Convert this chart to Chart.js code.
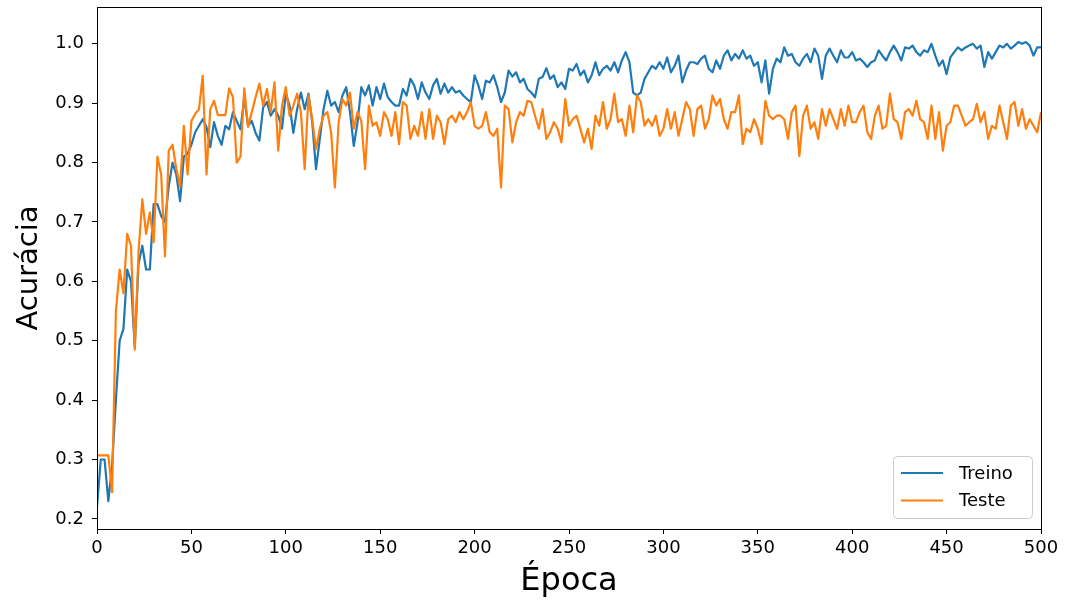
<!DOCTYPE html>
<html>
<head>
<meta charset="utf-8">
<script src="https://cdn.jsdelivr.net/npm/chart.js@4"></script>
<style>
  html, body { margin: 0; padding: 0; background: #fff; }
  #wrap { width: 1065px; height: 602px; }
</style>
</head>
<body>
<div id="wrap"><canvas id="acc"></canvas></div>
<script>
// Epochs (every 2nd epoch, 0..500)
const epochs = Array.from({ length: 251 }, (_, i) => i * 2);

// Accuracy per epoch
const treino = [
  0.22, 0.30, 0.30, 0.23, 0.29, 0.40, 0.50, 0.52, 0.62, 0.60,
  0.49, 0.63, 0.66, 0.62, 0.62, 0.73, 0.73, 0.71, 0.70, 0.76,
  0.80, 0.78, 0.735, 0.81, 0.815, 0.83, 0.851, 0.862, 0.873, 0.86,
  0.826, 0.868, 0.845, 0.83, 0.862, 0.856, 0.885, 0.87, 0.856, 0.91,
  0.862, 0.87, 0.85, 0.837, 0.893, 0.902, 0.879, 0.89, 0.879, 0.857,
  0.916, 0.896, 0.85, 0.89, 0.918, 0.89, 0.916, 0.868, 0.789, 0.84,
  0.89, 0.921, 0.896, 0.902, 0.885, 0.913, 0.927, 0.885, 0.828, 0.868,
  0.927, 0.913, 0.93, 0.896, 0.927, 0.907, 0.933, 0.91, 0.902, 0.896,
  0.896, 0.924, 0.913, 0.941, 0.93, 0.907, 0.935, 0.918, 0.907, 0.93,
  0.941, 0.916, 0.933, 0.918, 0.927, 0.918, 0.921, 0.913, 0.907, 0.902,
  0.947, 0.93, 0.907, 0.938, 0.935, 0.947, 0.927, 0.902, 0.918, 0.955,
  0.945, 0.952, 0.935, 0.941, 0.924, 0.918, 0.91, 0.941, 0.944, 0.959,
  0.941, 0.947, 0.927, 0.935, 0.924, 0.958, 0.955, 0.966, 0.947, 0.955,
  0.935, 0.947, 0.969, 0.947, 0.958, 0.963, 0.955, 0.969, 0.952, 0.972,
  0.986, 0.969, 0.918, 0.913, 0.918, 0.941, 0.952, 0.963, 0.958, 0.969,
  0.958, 0.977, 0.952, 0.963, 0.98, 0.935, 0.955, 0.969, 0.969, 0.966,
  0.975, 0.98, 0.958, 0.952, 0.972, 0.958, 0.98, 0.989, 0.972, 0.983,
  0.975, 0.989, 0.975, 0.98, 0.963, 0.969, 0.935, 0.972, 0.916, 0.958,
  0.975, 0.969, 0.994, 0.98, 0.983, 0.969, 0.963, 0.975, 0.983, 0.969,
  0.992, 0.98, 0.941, 0.98, 0.992, 0.98, 0.969, 0.989, 0.977, 0.977,
  0.986, 0.972, 0.975, 0.969, 0.961, 0.969, 0.972, 0.989, 0.98, 0.972,
  0.986, 0.997, 0.986, 0.972, 0.994, 0.992, 0.997, 0.986, 0.98, 0.989,
  0.986, 1.0, 0.98, 0.963, 0.972, 0.949, 0.977, 0.986, 0.994, 0.989,
  0.994, 0.997, 1.0, 0.992, 0.997, 0.961, 0.986, 0.975, 0.986, 0.997,
  0.994, 1.0, 0.992, 0.997, 1.003, 1.0, 1.003, 0.997, 0.98, 0.994,
  0.994
];

const teste = [
  0.307, 0.307, 0.307, 0.307, 0.245, 0.55, 0.62, 0.58, 0.68, 0.66,
  0.485, 0.65, 0.738, 0.68, 0.716, 0.666, 0.81, 0.78, 0.642, 0.82,
  0.83, 0.79, 0.76, 0.862, 0.78, 0.87, 0.882, 0.89, 0.946, 0.78,
  0.89, 0.904, 0.88, 0.88, 0.88, 0.925, 0.91, 0.80, 0.81, 0.925,
  0.86, 0.885, 0.91, 0.933, 0.896, 0.924, 0.885, 0.935, 0.82, 0.896,
  0.927, 0.879, 0.896, 0.916, 0.885, 0.789, 0.913, 0.873, 0.823, 0.857,
  0.879, 0.885, 0.851, 0.758, 0.868, 0.907, 0.896, 0.918, 0.857, 0.885,
  0.87, 0.789, 0.896, 0.862, 0.868, 0.845, 0.885, 0.873, 0.845, 0.885,
  0.831, 0.902, 0.896, 0.84, 0.862, 0.845, 0.885, 0.84, 0.89, 0.84,
  0.879, 0.868, 0.831, 0.873, 0.879, 0.868, 0.885, 0.873, 0.885, 0.902,
  0.862, 0.857, 0.862, 0.885, 0.851, 0.845, 0.857, 0.758, 0.896, 0.89,
  0.834, 0.868, 0.885, 0.879, 0.904, 0.902, 0.879, 0.857, 0.89, 0.84,
  0.851, 0.868, 0.857, 0.834, 0.907, 0.862, 0.873, 0.879, 0.857, 0.834,
  0.857, 0.823, 0.879, 0.862, 0.902, 0.857, 0.873, 0.916, 0.868, 0.873,
  0.845, 0.896, 0.851, 0.913, 0.902, 0.862, 0.873, 0.862, 0.879, 0.845,
  0.857, 0.89, 0.857, 0.885, 0.845, 0.873, 0.902, 0.89, 0.845, 0.89,
  0.896, 0.857, 0.873, 0.913, 0.896, 0.907, 0.873, 0.857, 0.885, 0.885,
  0.913, 0.831, 0.857, 0.851, 0.873, 0.857, 0.831, 0.904, 0.879, 0.873,
  0.879, 0.879, 0.873, 0.84, 0.885, 0.896, 0.811, 0.879, 0.896, 0.857,
  0.868, 0.84, 0.89, 0.862, 0.89, 0.873, 0.857, 0.89, 0.862, 0.896,
  0.868, 0.868, 0.885, 0.896, 0.851, 0.84, 0.879, 0.896, 0.857, 0.862,
  0.916, 0.873, 0.868, 0.84, 0.885, 0.89, 0.879, 0.904, 0.873, 0.868,
  0.84, 0.896, 0.84, 0.885, 0.82, 0.862, 0.868, 0.896, 0.896, 0.879,
  0.862, 0.868, 0.873, 0.899, 0.868, 0.885, 0.84, 0.862, 0.857, 0.896,
  0.868, 0.84, 0.896, 0.902, 0.862, 0.89, 0.857, 0.873, 0.862, 0.851,
  0.885
];

const seriesLabels = ['Treino', 'Teste'];
const seriesColors = ['#1f77b4', '#ff7f0e'];
const xTitle = 'Época';
const yTitle = 'Acurácia';

const FONT = "'DejaVu Sans', sans-serif";

// Matplotlib-like box around the plot area
const frame = {
  id: 'frame',
  afterDatasetsDraw(chart) {
    const { ctx, chartArea: a } = chart;
    ctx.save();
    ctx.strokeStyle = '#000';
    ctx.lineWidth = 1;
    ctx.strokeRect(a.left + 0.5, a.top + 0.5, a.right - a.left, a.bottom - a.top);
    ctx.restore();
  }
};

// Legend box in the lower right corner
const cornerLegend = {
  id: 'cornerLegend',
  afterDraw(chart) {
    const { ctx, chartArea: a } = chart;
    const right = a.right - 9;
    const bottom = a.bottom - 11;
    const w = 139, h = 62;
    const x = right - w, y = bottom - h;
    ctx.save();
    ctx.beginPath();
    ctx.roundRect(x + 0.5, y + 0.5, w, h, 4);
    ctx.fillStyle = 'rgba(255,255,255,0.8)';
    ctx.fill();
    ctx.strokeStyle = '#cccccc';
    ctx.lineWidth = 1;
    ctx.stroke();
    chart.data.datasets.forEach((ds, i) => {
      const ly = y + 17 + i * 27.5;
      ctx.beginPath();
      ctx.moveTo(x + 8, ly);
      ctx.lineTo(x + 50, ly);
      ctx.strokeStyle = ds.borderColor;
      ctx.lineWidth = 2.2;
      ctx.stroke();
      ctx.fillStyle = '#000';
      ctx.font = '18px ' + FONT;
      ctx.textBaseline = 'middle';
      ctx.textAlign = 'left';
      ctx.fillText(ds.label, x + 66, ly + 1);
    });
    ctx.restore();
  }
};

const ctx = document.getElementById('acc').getContext('2d');

new Chart(ctx, {
  type: 'line',
  data: {
    datasets: [
      {
        label: seriesLabels[0],
        data: epochs.map((e, i) => ({ x: e, y: treino[i] })),
        borderColor: seriesColors[0],
        borderWidth: 2.2,
        pointRadius: 0,
        tension: 0,
        borderJoinStyle: 'round',
        order: 1
      },
      {
        label: seriesLabels[1],
        data: epochs.map((e, i) => ({ x: e, y: teste[i] })),
        borderColor: seriesColors[1],
        borderWidth: 2.2,
        pointRadius: 0,
        tension: 0,
        borderJoinStyle: 'round',
        order: 0
      }
    ]
  },
  options: {
    responsive: true,
    maintainAspectRatio: false,
    animation: false,
    layout: { padding: { top: 7, right: 24, left: 0, bottom: 0 } },
    plugins: {
      legend: { display: false },
      tooltip: { enabled: false }
    },
    scales: {
      x: {
        type: 'linear',
        min: 0,
        max: 500,
        border: { display: false },
        grid: {
          drawOnChartArea: false,
          drawTicks: true,
          tickLength: 5,
          tickColor: '#000'
        },
        ticks: {
          stepSize: 50,
          color: '#000',
          padding: 4,
          maxRotation: 0,
          font: { family: FONT, size: 18 }
        },
        title: {
          display: true,
          text: xTitle,
          color: '#000',
          font: { family: FONT, size: 32 },
          padding: { top: 0, bottom: 1 }
        },
        afterFit(scale) {
          scale.height = 73;
          scale.paddingLeft = 0;
          scale.paddingRight = 0;
        }
      },
      y: {
        min: 0.183,
        max: 1.062,
        border: { display: false },
        grid: {
          drawOnChartArea: false,
          drawTicks: true,
          tickLength: 5,
          tickColor: '#000'
        },
        ticks: {
          stepSize: 0.1,
          includeBounds: false,
          color: '#000',
          padding: 8,
          font: { family: FONT, size: 18 },
          callback: v => v.toFixed(1)
        },
        title: {
          display: true,
          text: yTitle,
          color: '#000',
          font: { family: FONT, size: 29 },
          padding: { top: 12, bottom: 0 }
        },
        afterFit(scale) {
          scale.width = 97;
          scale.paddingTop = 0;
          scale.paddingBottom = 0;
        }
      }
    }
  },
  plugins: [frame, cornerLegend]
});
</script>
</body>
</html>
